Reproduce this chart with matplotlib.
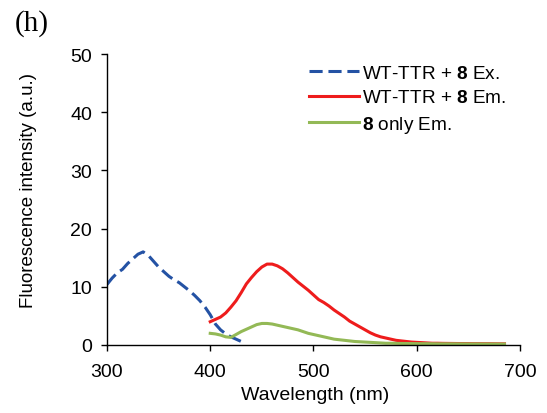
import numpy as np
import matplotlib
matplotlib.use("Agg")
import matplotlib.pyplot as plt

plt.rcParams['font.family'] = ['Liberation Sans', 'DejaVu Sans']
plt.rcParams['mathtext.fontset'] = 'custom'
plt.rcParams['mathtext.rm'] = 'Liberation Sans'
plt.rcParams['mathtext.bf'] = 'Liberation Sans:bold'

# Excitation spectrum (WT-TTR + 8)
ex_wl = [300, 305, 310, 315, 320, 325, 330, 335, 340, 345, 350, 355, 360, 365,
         370, 375, 380, 385, 390, 395, 400, 405, 410, 415, 420, 425, 430]
ex_int = [10.4, 11.5, 12.4, 13.0, 14.0, 14.8, 15.6, 16.0, 15.4, 14.4, 13.4, 12.6,
          11.8, 11.2, 10.7, 10.0, 9.3, 8.5, 7.6, 6.5, 5.2, 3.6, 2.6, 1.9, 1.4, 1.0, 0.6]

# Emission wavelengths
em_wl = list(range(400, 690, 5))
# Emission spectrum (WT-TTR + 8)
em_int = [4.0, 4.4, 4.8, 5.5, 6.5, 7.6, 9.0, 10.5, 11.6, 12.6, 13.4, 13.9, 13.9,
          13.6, 13.1, 12.4, 11.6, 10.8, 10.1, 9.4, 8.6, 7.8, 7.3, 6.7, 6.0, 5.4,
          4.8, 4.1, 3.6, 3.1, 2.6, 2.1, 1.7, 1.4, 1.2, 1.0, 0.8, 0.7, 0.6, 0.5,
          0.45, 0.4, 0.35, 0.3, 0.3, 0.28, 0.27, 0.26, 0.25, 0.25, 0.24, 0.23,
          0.23, 0.22, 0.22, 0.21, 0.2, 0.2]
# Emission spectrum (8 only)
only_int = [2.0, 1.9, 1.7, 1.4, 1.3, 1.8, 2.3, 2.7, 3.1, 3.5, 3.7, 3.7, 3.6,
            3.4, 3.2, 3.0, 2.8, 2.6, 2.3, 2.0, 1.8, 1.6, 1.4, 1.2, 1.0, 0.9,
            0.8, 0.7, 0.6, 0.55, 0.5, 0.45, 0.4, 0.35, 0.3, 0.3, 0.28, 0.26,
            0.25, 0.24, 0.23, 0.22, 0.22, 0.21, 0.2, 0.2, 0.2, 0.2, 0.19, 0.19,
            0.18, 0.18, 0.18, 0.17, 0.17, 0.17, 0.16, 0.16]

labels = [r"WT-TTR + $\mathbf{8}$ Ex.", r"WT-TTR + $\mathbf{8}$ Em.", r"$\mathbf{8}$ only Em."]
xticks = [300, 400, 500, 600, 700]
yticks = [0, 10, 20, 30, 40, 50]

fig = plt.figure(figsize=(5.47, 4.14), dpi=100)
ax = fig.add_axes([0.1956, 0.1643, 0.755, 0.7028])

ax.plot(ex_wl, ex_int, color='#2452A4', lw=2.2, dashes=(4.3, 1.9), label=labels[0])
ax.plot(em_wl, em_int, color='#EE1C1C', lw=2.2, label=labels[1])
ax.plot(em_wl, only_int, color='#93B956', lw=2.2, label=labels[2])

ax.set_xlim(300, 700)
ax.set_ylim(0, 50)
ax.set_xticks(xticks)
ax.set_yticks(yticks)
ax.tick_params(direction='out', length=4.3, width=1, labelsize=14, pad=6.5)
ax.tick_params(axis='x', pad=9)
for s in ['top', 'right']:
    ax.spines[s].set_visible(False)
for s in ['left', 'bottom']:
    ax.spines[s].set_linewidth(1)
ax.set_xlabel('Wavelength (nm)', fontsize=14, va='center')
ax.xaxis.set_label_coords(0.504, -0.17)
ax.set_ylabel('Fluorescence intensity (a.u.)', fontsize=13.5, va='center')
ax.yaxis.set_label_coords(-0.189, 0.536)

ax.legend(loc='upper right', bbox_to_anchor=(0.985, 0.99), frameon=False, fontsize=13.7,
          handlelength=2.63, handletextpad=0.15, labelspacing=0.38, borderaxespad=0.0)

fig.text(0.027, 0.942, '(h)', fontsize=21, family='Liberation Serif', va='center', ha='left')

fig.savefig('out.png', dpi=100)
